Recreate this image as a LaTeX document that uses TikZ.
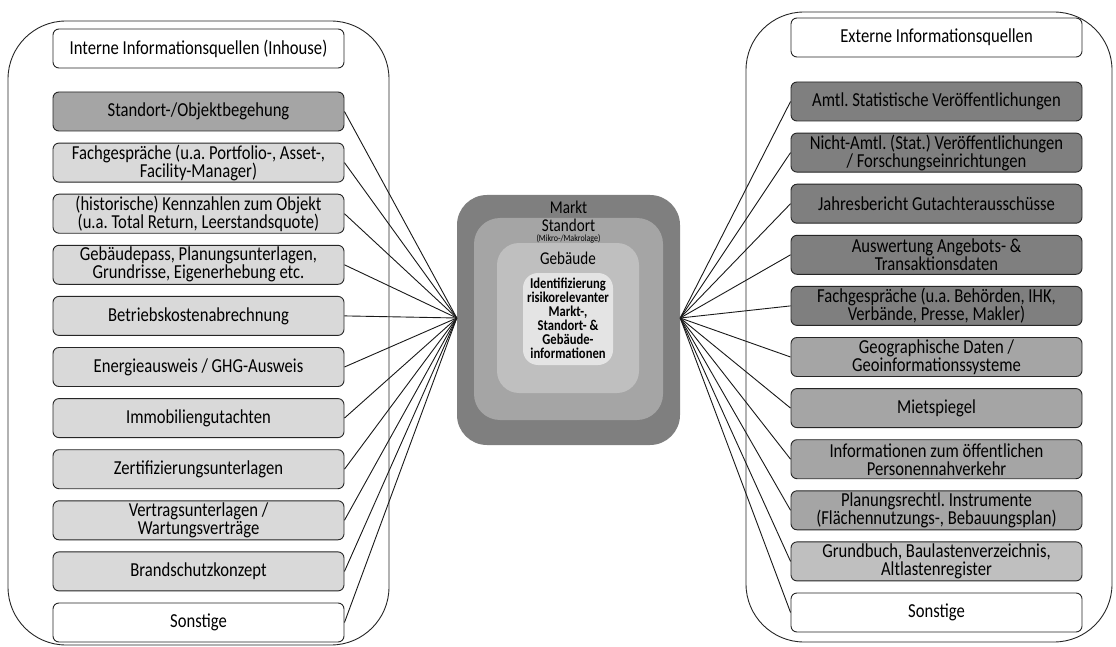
\documentclass[tikz,border=0pt]{standalone}
\usepackage{fontspec}
\setmainfont{Carlito}[FakeStretch=0.84]
\frenchspacing
\definecolor{fillA}{HTML}{7F7F7F}
\definecolor{fillB}{HTML}{A5A5A5}
\definecolor{fillC}{HTML}{BFBFBF}
\definecolor{fillD}{HTML}{D9D9D9}
\definecolor{fillE}{HTML}{E4E4E4}
\definecolor{edge}{HTML}{262626}
\begin{document}
\begin{tikzpicture}[x=1pt,y=-1pt,
  panel/.style={draw=edge, line width=0.9pt, fill=white, rounded corners=58pt},
  src/.style={draw=edge, line width=0.9pt, rounded corners=6pt,
    minimum width=291pt, minimum height=39pt, text width=289pt,
    align=flush center, inner sep=0pt, font=\fontsize{19.8}{18}\selectfont},
  link/.style={draw=black!90, line width=0.9pt},
  ring/.style={draw=none},
  lbl/.style={inner sep=0pt, align=flush center}
]
\useasboundingbox (0,0) rectangle (1116,647);

% the two source panels
\node[panel, minimum width=381pt, minimum height=624pt] (leftpanel) at (198.5,333) {};
\node[panel, minimum width=366pt, minimum height=630pt] (rightpanel) at (929,327) {};

% internal sources
\node[src, fill=white] (l0) at (198.5,48.5) {Interne Informationsquellen (Inhouse)};
\node[src, fill=fillB] (l1) at (198.5,111.5) {Standort-/Objektbegehung};
\node[src, fill=fillD] (l2) at (198.5,162.6) {Fachgespräche (u.a. Portfolio-, Asset-,\\Facility-Manager)};
\node[src, fill=fillD] (l3) at (198.5,213.7) {(historische) Kennzahlen zum Objekt\\(u.a. Total Return, Leerstandsquote)};
\node[src, fill=fillD] (l4) at (198.5,264.8) {Gebäudepass, Planungsunterlagen,\\Grundrisse, Eigenerhebung etc.};
\node[src, fill=fillD] (l5) at (198.5,315.9) {Betriebskostenabrechnung};
\node[src, fill=fillD] (l6) at (198.5,367.0) {Energieausweis / GHG-Ausweis};
\node[src, fill=fillD] (l7) at (198.5,418.1) {Immobiliengutachten};
\node[src, fill=fillD] (l8) at (198.5,469.2) {Zertifizierungsunterlagen};
\node[src, fill=fillD] (l9) at (198.5,520.3) {Vertragsunterlagen /\\Wartungsverträge};
\node[src, fill=fillD] (l10) at (198.5,571.4) {Brandschutzkonzept};
\node[src, fill=white] (l11) at (198.5,622.5) {Sonstige};

% external sources
\node[src, fill=white] (r0) at (936.5,37.5) {Externe Informationsquellen};
\node[src, fill=fillA] (r1) at (936.5,101.5) {Amtl. Statistische Veröffentlichungen};
\node[src, fill=fillA] (r2) at (936.5,152.6) {Nicht-Amtl. (Stat.) Veröffentlichungen\\/ Forschungseinrichtungen};
\node[src, fill=fillA] (r3) at (936.5,203.7) {Jahresbericht Gutachterausschüsse};
\node[src, fill=fillA] (r4) at (936.5,254.8) {Auswertung Angebots- \&\\Transaktionsdaten};
\node[src, fill=fillA] (r5) at (936.5,305.9) {Fachgespräche (u.a. Behörden, IHK,\\Verbände, Presse, Makler)};
\node[src, fill=fillB] (r6) at (936.5,357.0) {Geographische Daten /\\Geoinformationssysteme};
\node[src, fill=fillB] (r7) at (936.5,408.1) {Mietspiegel};
\node[src, fill=fillB] (r8) at (936.5,459.2) {Informationen zum öffentlichen\\Personennahverkehr};
\node[src, fill=fillB] (r9) at (936.5,510.3) {Planungsrechtl. Instrumente\\(Flächennutzungs-, Bebauungsplan)};
\node[src, fill=fillC] (r10) at (936.5,561.4) {Grundbuch, Baulastenverzeichnis,\\Altlastenregister};
\node[src, fill=white] (r11) at (936.5,612.5) {Sonstige};

% nested core: market, location, building, goal
\node[ring, fill=fillA, rounded corners=30pt, minimum width=223pt, minimum height=250pt] (core) at (568.5,320) {};

% connectors from every source to the core
\foreach \i in {1,...,11} {
  \draw[link] (l\i.east) -- ([yshift=2pt]core.west);
  \draw[link] (r\i.west) -- ([yshift=2pt]core.east);
}

\node[ring, fill=fillB, rounded corners=26pt, minimum width=189pt, minimum height=202pt] (site) at (568.5,319) {};
\node[ring, fill=fillC, rounded corners=22pt, minimum width=142pt, minimum height=150pt] (bldg) at (568,318) {};
\node[ring, fill=fillE, rounded corners=15pt, minimum width=90pt, minimum height=92pt] (goal) at (568,319) {};

\node[lbl, font=\fontsize{18}{18}\selectfont] (tmarkt) at (568.5,207) {Markt};
\node[lbl, font=\fontsize{18}{18}\selectfont] (tstandort) at (568.5,225) {Standort};
\node[lbl, font=\fontsize{9.5}{10}\selectfont] (tlage) at (568.5,239) {(Mikro-/Makrolage)};
\node[lbl, font=\fontsize{18}{18}\selectfont] (tgeb) at (568,258) {Gebäude};
\node[lbl, font=\bfseries\fontsize{15}{14}\selectfont] (tgoal) at (568,318) {Identifizierung\\risikorelevanter\\Markt-,\\Standort- \&\\Gebäude-\\informationen};
\end{tikzpicture}
\end{document}
